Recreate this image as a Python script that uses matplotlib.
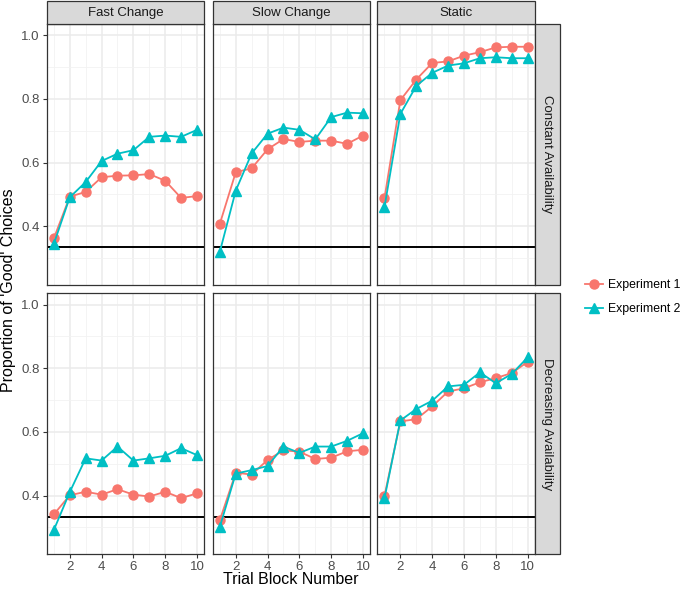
import numpy as np
import matplotlib
matplotlib.use('Agg')
import matplotlib.pyplot as plt
from matplotlib.patches import Rectangle

plt.rcParams['font.family'] = ['Liberation Sans', 'DejaVu Sans']

blocks = np.arange(1, 11)
conditions = ['Fast Change', 'Slow Change', 'Static']
availability = ['Constant Availability', 'Decreasing Availability']
chance = 1.0 / 3

# experiment 1 (red), experiment 2 (teal); rows = availability, cols = condition
exp1_constant_fast = [0.362, 0.493, 0.508, 0.554, 0.559, 0.560, 0.564, 0.543, 0.489, 0.495]
exp2_constant_fast = [0.345, 0.491, 0.539, 0.605, 0.628, 0.639, 0.681, 0.685, 0.681, 0.703]
exp1_constant_slow = [0.408, 0.570, 0.582, 0.642, 0.674, 0.665, 0.669, 0.669, 0.659, 0.685]
exp2_constant_slow = [0.320, 0.512, 0.629, 0.691, 0.710, 0.703, 0.673, 0.743, 0.757, 0.755]
exp1_constant_static = [0.488, 0.796, 0.861, 0.913, 0.918, 0.936, 0.947, 0.962, 0.964, 0.964]
exp2_constant_static = [0.460, 0.753, 0.841, 0.882, 0.905, 0.912, 0.928, 0.931, 0.928, 0.928]
exp1_decreasing_fast = [0.341, 0.401, 0.412, 0.403, 0.420, 0.403, 0.397, 0.412, 0.392, 0.407]
exp2_decreasing_fast = [0.292, 0.411, 0.517, 0.510, 0.554, 0.510, 0.517, 0.525, 0.549, 0.527]
exp1_decreasing_slow = [0.323, 0.472, 0.466, 0.512, 0.542, 0.538, 0.515, 0.519, 0.539, 0.544]
exp2_decreasing_slow = [0.302, 0.469, 0.480, 0.493, 0.554, 0.534, 0.554, 0.554, 0.572, 0.596]
exp1_decreasing_static = [0.399, 0.633, 0.640, 0.680, 0.727, 0.737, 0.756, 0.769, 0.785, 0.820]
exp2_decreasing_static = [0.391, 0.636, 0.672, 0.698, 0.743, 0.748, 0.787, 0.753, 0.782, 0.834]

exp1 = [[exp1_constant_fast, exp1_constant_slow, exp1_constant_static],
        [exp1_decreasing_fast, exp1_decreasing_slow, exp1_decreasing_static]]
exp2 = [[exp2_constant_fast, exp2_constant_slow, exp2_constant_static],
        [exp2_decreasing_fast, exp2_decreasing_slow, exp2_decreasing_static]]

red = '#F8766D'
teal = '#00BFC4'
W, H = 685.0, 590.0

fig = plt.figure(figsize=(6.85, 5.9), dpi=100)

col_left = [46.7, 212.7, 377.3]
col_w = 157.5
row_top = [24.0, 293.3]
row_h = 261.0

for r in range(2):
    for c in range(3):
        ax = fig.add_axes([col_left[c] / W, 1 - (row_top[r] + row_h) / H, col_w / W, row_h / H])
        ax.set_xlim(0.55, 10.45)
        ax.set_ylim(0.2155, 1.0355)
        ax.set_xticks([2, 4, 6, 8, 10])
        ax.set_xticks([1, 3, 5, 7, 9], minor=True)
        ax.set_yticks([0.4, 0.6, 0.8, 1.0])
        ax.set_yticks([0.3, 0.5, 0.7, 0.9], minor=True)
        ax.grid(which='major', color='#EBEBEB', lw=1.1)
        ax.grid(which='minor', color='#F2F2F2', lw=0.6)
        ax.set_axisbelow(True)
        for s in ax.spines.values():
            s.set_color('#333333')
            s.set_linewidth(0.9)
        ax.tick_params(which='minor', length=0)
        ax.tick_params(which='major', length=3, color='#333333', width=0.8,
                       labelsize=9.5, labelcolor='#4D4D4D', pad=2)
        if c > 0:
            ax.tick_params(axis='y', left=False, labelleft=False)
        else:
            ax.set_yticklabels(['0.4', '0.6', '0.8', '1.0'])
        if r == 0:
            ax.tick_params(axis='x', bottom=False, labelbottom=False)
        ax.axhline(chance, color='black', lw=1.4, zorder=2)
        ax.plot(blocks, exp1[r][c], color=red, lw=1.3, marker='o', ms=6.5, zorder=3,
                label='Experiment 1')
        ax.plot(blocks, exp2[r][c], color=teal, lw=1.3, marker='^', ms=7, zorder=4,
                label='Experiment 2')
        if r == 0:
            fig.patches.append(Rectangle((col_left[c] / W, 1 - 24.0 / H), col_w / W, 22.5 / H,
                                         transform=fig.transFigure, facecolor='#D9D9D9',
                                         edgecolor='#333333', lw=0.9))
            fig.text((col_left[c] + col_w / 2) / W, 1 - 12.8 / H, conditions[c],
                     ha='center', va='center', fontsize=9.5, color='#1A1A1A')
        if c == 2:
            fig.patches.append(Rectangle(((col_left[c] + col_w) / W, 1 - (row_top[r] + row_h) / H),
                                         24.7 / W, row_h / H, transform=fig.transFigure,
                                         facecolor='#D9D9D9', edgecolor='#333333', lw=0.9))
            fig.text((col_left[c] + col_w + 12.3) / W, 1 - (row_top[r] + row_h / 2) / H,
                     availability[r], ha='center', va='center', rotation=-90,
                     fontsize=9.5, color='#1A1A1A')
        if r == 0 and c == 0:
            handles, labels = ax.get_legend_handles_labels()

fig.text(291 / W, 1 - 580 / H, 'Trial Block Number', ha='center', va='center',
         fontsize=11.5, color='black')
fig.text(9 / W, 1 - 290 / H, "Proportion of 'Good' Choices", ha='center', va='center',
         rotation=90, fontsize=11.5, color='black')

fig.legend(handles, labels, loc='center left', bbox_to_anchor=(585 / W, 1 - 297 / H),
           frameon=False, fontsize=8.8, handlelength=1.5, labelspacing=1.0,
           handletextpad=0.4, borderpad=0, borderaxespad=0)

fig.savefig('out.png', dpi=100)
